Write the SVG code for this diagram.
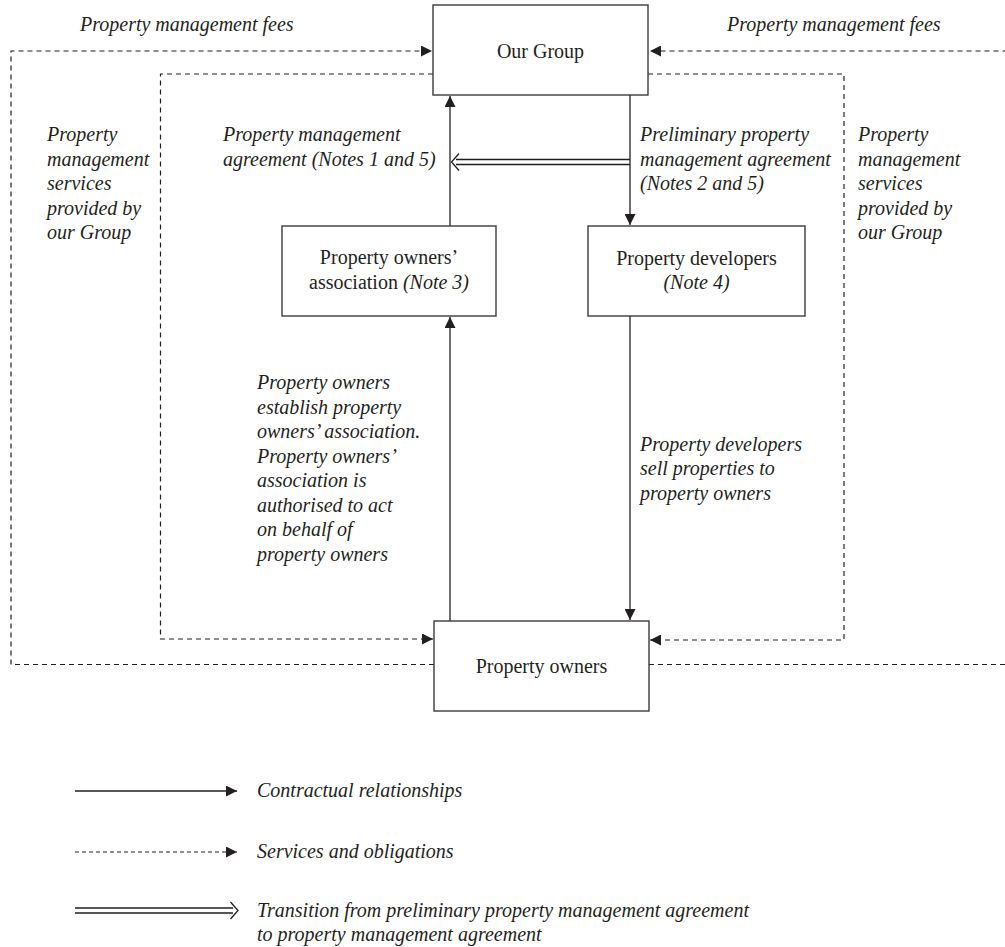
<svg xmlns="http://www.w3.org/2000/svg" width="1005" height="947" viewBox="0 0 1005 947">
<style>
text{font-family:"Liberation Serif","Times New Roman",serif;font-size:20px;fill:#231f20}
.i{font-style:italic}
.box{fill:#fff;stroke:#3d3a3b;stroke-width:1.4}
.solid{fill:none;stroke:#231f20;stroke-width:1.3}
.dash{fill:none;stroke:#231f20;stroke-width:1.2;stroke-dasharray:5 4}
.dbl{fill:none;stroke:#231f20;stroke-width:1.3}
</style>
<defs>
<marker id="ah" viewBox="0 0 10 10" refX="10" refY="5" markerWidth="11" markerHeight="11" markerUnits="userSpaceOnUse" orient="auto">
<path d="M0,0 L10,5 L0,10 Z" fill="#231f20"/>
</marker>
</defs>
<rect width="1005" height="947" fill="#fff"/>

<g id="connectors">
<!-- dashed services/fees -->
<path class="dash" d="M434,664.5 H11 V51 H432" marker-end="url(#ah)"/>
<path class="dash" d="M649,664.5 H1012 V51 H650" marker-end="url(#ah)"/>
<path class="dash" d="M433,74 H160.5 V639 H433" marker-end="url(#ah)"/>
<path class="dash" d="M648,74 H844 V640 H650" marker-end="url(#ah)"/>
<!-- contractual -->
<path class="solid" d="M450,226 V96" marker-end="url(#ah)"/>
<path class="solid" d="M630,95 V225" marker-end="url(#ah)"/>
<path class="solid" d="M630,316 V620" marker-end="url(#ah)"/>
<path class="solid" d="M450,621 V317" marker-end="url(#ah)"/>
<!-- transition double arrow -->
<path class="dbl" d="M630,159.5 H456 M630,164.5 H456"/>
<path class="dbl" d="M459,153.5 L451.5,162 L459,170.5"/>
</g>

<g id="our-group">
<rect class="box" x="433" y="5" width="215" height="90"/>
<text x="540.5" y="58" text-anchor="middle">Our Group</text>
</g>

<g id="association">
<rect class="box" x="282" y="226" width="214" height="90"/>
<text x="389" y="264" text-anchor="middle">Property owners’</text>
<text x="389" y="289" text-anchor="middle">association <tspan class="i">(Note 3)</tspan></text>
</g>

<g id="developers">
<rect class="box" x="588" y="226" width="217" height="90"/>
<text x="696.5" y="265" text-anchor="middle">Property developers</text>
<text x="696.5" y="289" text-anchor="middle" class="i">(Note 4)</text>
</g>

<g id="owners">
<rect class="box" x="434" y="621" width="215" height="90"/>
<text x="541.5" y="673" text-anchor="middle">Property owners</text>
</g>

<g id="labels">
<text class="i" x="80" y="31">Property management fees</text>
<text class="i" x="727" y="31">Property management fees</text>
<text class="i" x="47" y="141">Property</text>
<text class="i" x="47" y="165.5">management</text>
<text class="i" x="47" y="190">services</text>
<text class="i" x="47" y="214.5">provided by</text>
<text class="i" x="47" y="239">our Group</text>
<text class="i" x="858" y="141">Property</text>
<text class="i" x="858" y="165.5">management</text>
<text class="i" x="858" y="190">services</text>
<text class="i" x="858" y="214.5">provided by</text>
<text class="i" x="858" y="239">our Group</text>
<text class="i" x="223" y="141">Property management</text>
<text class="i" x="223" y="165.5">agreement (Notes 1 and 5)</text>
<text class="i" x="640" y="141">Preliminary property</text>
<text class="i" x="640" y="165.5">management agreement</text>
<text class="i" x="640" y="190">(Notes 2 and 5)</text>
<text class="i" x="257" y="389">Property owners</text>
<text class="i" x="257" y="413.5">establish property</text>
<text class="i" x="257" y="438">owners’ association.</text>
<text class="i" x="257" y="462.5">Property owners’</text>
<text class="i" x="257" y="487">association is</text>
<text class="i" x="257" y="511.5">authorised to act</text>
<text class="i" x="257" y="536">on behalf of</text>
<text class="i" x="257" y="560.5">property owners</text>
<text class="i" x="640" y="450.5">Property developers</text>
<text class="i" x="640" y="475">sell properties to</text>
<text class="i" x="640" y="499.5">property owners</text>
</g>

<g id="legend">
<path class="solid" d="M75,791 H237" marker-end="url(#ah)"/>
<text class="i" x="257" y="797">Contractual relationships</text>
<path class="dash" d="M75,852 H237" style="stroke-dasharray:4 3" marker-end="url(#ah)"/>
<text class="i" x="257" y="858">Services and obligations</text>
<path class="dbl" d="M75,908 H233 M75,913 H233"/>
<path class="dbl" d="M230.5,902 L238,910.5 L230.5,919"/>
<text class="i" x="257" y="916.5">Transition from preliminary property management agreement</text>
<text class="i" x="257" y="941">to property management agreement</text>
</g>
</svg>
